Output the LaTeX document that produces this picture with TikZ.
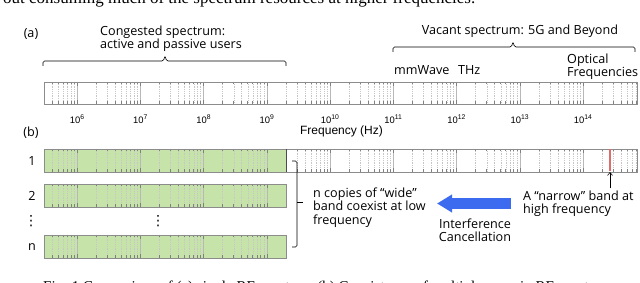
\documentclass[tikz,border=0pt]{standalone}
\usepackage{fontspec}
\setmainfont{Open Sans}
\newfontfamily\axisfont{Liberation Sans}
\newfontfamily\paperfont{Liberation Serif}
\newfontfamily\dotsfont{DejaVu Sans}
\usetikzlibrary{arrows.meta}

\definecolor{bandgreen}{HTML}{C6E3AA}
\definecolor{narrowred}{HTML}{E06B6B}
\definecolor{cancelblue}{HTML}{3D6BF0}
\definecolor{framegray}{HTML}{8C8C8C}

\newcommand{\decadelabel}[1]{10\raisebox{0.8ex}{\fontsize{6.8}{6.8}\selectfont#1}}

% log grid of one strip: top, bottom, right end
\newcommand{\spectrumgrid}[3]{%
  \begin{scope}
    \clip (44,#1) rectangle (#3,#2);
    \foreach \dec in {5,...,14}{
      \foreach \k in {2,...,9}{
        \pgfmathsetmacro{\xx}{77+63.25*(\dec-6+log10(\k))}
        \draw[grid minor] (\xx,#1) -- (\xx,#2);
        \draw[tick mark] (\xx,#1) -- ++(0,2.5) (\xx,#2) -- ++(0,-2.5);
      }
      \pgfmathsetmacro{\xx}{77+63.25*(\dec-6)}
      \draw[grid major] (\xx,#1) -- (\xx,#2);
      \draw[tick mark] (\xx,#1) -- ++(0,4) (\xx,#2) -- ++(0,-4);
    }
  \end{scope}
}

\begin{document}
\begin{tikzpicture}[
    x=1pt,
    y=-1pt,
    label text/.style={
        font=\fontsize{12.6}{13.4}\selectfont,
        inner sep=0pt,
        align=left
    },
    tick label/.style={
        font=\axisfont\fontsize{9.4}{9.4}\selectfont,
        inner sep=0pt
    },
    skip dots/.style={
        font=\dotsfont\fontsize{14}{14}\selectfont,
        inner sep=0pt
    },
    grid minor/.style={black!22, line width=0.35pt, dash pattern=on 0.6pt off 1.2pt},
    grid major/.style={black!28, line width=0.45pt},
    tick mark/.style={black!50, line width=0.45pt},
    strip frame/.style={draw=framegray, line width=0.7pt},
    brace line/.style={line width=0.6pt, rounded corners=1.5pt},
    pointer/.style={
        -{Straight Barb[length=3pt,width=5pt]},
        line width=0.6pt
    },
    cancel arrow/.style={
        cancelblue,
        line width=11pt,
        -{Triangle[length=15pt,width=17pt]}
    }
]
\useasboundingbox (0,0) rectangle (640,283);

% paper text around the figure
\node[font=\paperfont\fontsize{17}{17}\selectfont, anchor=base west, inner sep=0pt]
    (papertext) at (3,3.5) {out consuming much of the spectrum resources at higher frequencies.};
\node[font=\paperfont\fontsize{15}{15}\selectfont, anchor=base west, inner sep=0pt]
    (caption) at (43,291.5) {Fig. 1 Comparison of (a) single RF spectrum (b) Coexistence of multiple users in RF spectrum};

% (a) single spectrum
\node[label text] (panelA) at (31,34) {(a)};

\spectrumgrid{82}{104}{637}
\draw[strip frame] (44,82) rectangle (637,104);

\foreach \dec in {6,...,14}
    \node[tick label, anchor=base] (tick\dec) at ({77+63.25*(\dec-6)},123.3) {\decadelabel{\dec}};
\node[font=\axisfont\fontsize{12}{12}\selectfont, anchor=base, inner sep=0pt]
    (freqaxis) at (341.5,135) {Frequency (Hz)};

\draw[brace line] (43,66) -- (43,61) -- (163.5,61) -- (165,55.5) -- (166.5,61) -- (286,61) -- (286,66);
\node[label text, anchor=north west] (congested) at (100,25.4) {Congested spectrum:\\active and passive users};

\draw[brace line] (393,52) -- (393,47) -- (511.5,47) -- (513,41.5) -- (514.5,47) -- (635,47) -- (635,52);
\node[label text, anchor=base] (vacant) at (520,35) {Vacant spectrum: 5G and Beyond};

\node[label text, anchor=base west] (mmwave) at (394,75) {mmWave};
\node[label text, anchor=base west] (thz) at (458,75) {THz};
\node[label text, anchor=north west] (optical) at (567,53.4) {Optical\\Frequencies};

% (b) many copies of the wide band
\node[label text] (panelB) at (31,133) {(b)};

\fill[bandgreen] (44,149) rectangle (286,172);
\spectrumgrid{149}{172}{637}
\draw[strip frame] (44,149) rectangle (637,172);
\draw[black!70, line width=0.7pt] (286,149) -- (286,172);
\draw[narrowred, line width=1.2pt] (610,149.5) -- (610,171.5);
\coordinate (narrowband) at (610,172);

\foreach \ytop/\ybot in {184/207, 235/258}{
    \fill[bandgreen] (44,\ytop) rectangle (286,\ybot);
    \spectrumgrid{\ytop}{\ybot}{286}
    \draw[strip frame] (44,\ytop) rectangle (286,\ybot);
}

\node[label text] (row1) at (32,161) {1};
\node[label text] (row2) at (32,196) {2};
\node[skip dots] (rowskip) at (31,221) {⋮};
\node[skip dots] (bandskip) at (158,221) {⋮};
\node[label text] (rown) at (32,247) {n};

\draw[brace line] (292,161) -- (297,161) -- (297,247) -- (292,247);
\draw[brace line] (297,202) -- (302.5,202);
\node[label text, anchor=north west] (copies) at (313,187.4) {n copies of “wide”\\band coexist at low\\frequency};

\coordinate (cancelTail) at (511,203.5);
\coordinate (cancelTip) at (437,203.5);
\draw[cancel arrow] (cancelTail) -- (cancelTip);
\node[label text, anchor=north, align=center] (cancel) at (475,218.4) {Interference\\Cancellation};

\node[label text, anchor=north west] (narrow) at (523,190.4) {A “narrow” band at\\high frequency};
\coordinate (arrowFoot) at (610,188.5);
\draw[pointer] (arrowFoot) -- (narrowband);

\end{tikzpicture}
\end{document}
